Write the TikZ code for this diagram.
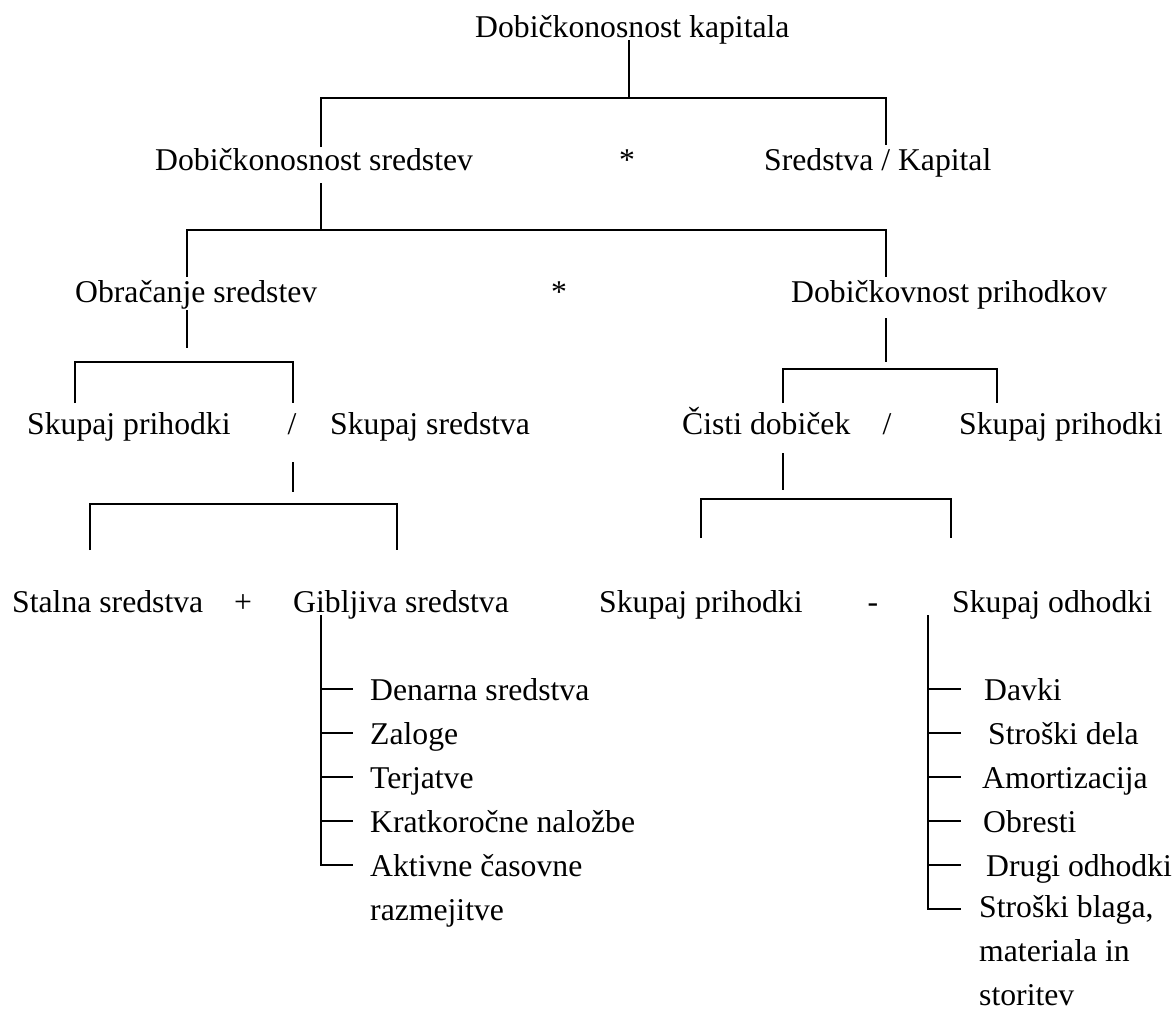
\documentclass[tikz,border=0pt]{standalone}
\usepackage{fontspec}
\setmainfont{Liberation Serif}
\begin{document}
\begin{tikzpicture}[x=1pt,y=-1pt,
  lbl/.style={anchor=base west, inner sep=0pt, align=left,
              font=\fontsize{31.7}{44}\selectfont},
  op/.style={anchor=base, inner sep=0pt, font=\fontsize{31.7}{44}\selectfont},
  ln/.style={line width=1.7pt, line cap=butt}]
\useasboundingbox (0,0) rectangle (1176,1009);

% ---- text of the tree ----
\node[lbl] (dk)   at (475,37)  {Dobičkonosnost kapitala};
\node[lbl] (ds)   at (155,170) {Dobičkonosnost sredstev};
\node[op]  (m1)   at (627,170) {*};
\node[lbl] (sk)   at (764,170) {Sredstva / Kapital};
\node[lbl] (os)   at (75,302)  {Obračanje sredstev};
\node[op]  (m2)   at (559,302) {*};
\node[lbl] (dp)   at (791,302) {Dobičkovnost prihodkov};
\node[lbl] (sp1)  at (27,434)  {Skupaj prihodki};
\node[op]  (d1)   at (292,434) {/};
\node[lbl] (ss)   at (330,434) {Skupaj sredstva};
\node[lbl] (cd)   at (682,434) {Čisti dobiček};
\node[op]  (d2)   at (887,434) {/};
\node[lbl] (sp2)  at (959,434) {Skupaj prihodki};
\node[lbl] (stal) at (12,612)  {Stalna sredstva};
\node[op]  (plus) at (243,612) {+};
\node[lbl] (gib)  at (293,612) {Gibljiva sredstva};
\node[lbl] (sp3)  at (599,612) {Skupaj prihodki};
\node[op]  (mns)  at (873,612) {-};
\node[lbl] (so)   at (952,612) {Skupaj odhodki};

% ---- current assets (a multi-line node sits on its last baseline) ----
\node[lbl] (g1) at (370,700) {Denarna sredstva};
\node[lbl] (g2) at (370,744) {Zaloge};
\node[lbl] (g3) at (370,788) {Terjatve};
\node[lbl] (g4) at (370,832) {Kratkoročne naložbe};
\node[lbl] (g5) at (370,920) {Aktivne časovne\\razmejitve};

% ---- expenses ----
\node[lbl] (o1) at (984,700) {Davki};
\node[lbl] (o2) at (988,744) {Stroški dela};
\node[lbl] (o3) at (982,788) {Amortizacija};
\node[lbl] (o4) at (983,832) {Obresti};
\node[lbl] (o5) at (986,876) {Drugi odhodki};
\node[lbl] (o6) at (979,1005) {Stroški blaga,\\materiala in\\storitev};

% ---- bracket joints ----
\coordinate (a0) at (629,40);   \coordinate (a1) at (629,98);
\coordinate (aL) at (321,98);   \coordinate (aR) at (886,98);
\coordinate (aLe) at (321,147); \coordinate (aRe) at (886,145);

\coordinate (b0) at (321,183);  \coordinate (b1) at (321,230);
\coordinate (bL) at (187,230);  \coordinate (bR) at (886,230);
\coordinate (bLe) at (187,277); \coordinate (bRe) at (886,277);

\coordinate (c0) at (187,310);  \coordinate (c1) at (187,348);
\coordinate (cL) at (75,362);   \coordinate (cR) at (293,362);
\coordinate (cLe) at (75,403);  \coordinate (cRe) at (293,403);

\coordinate (d0) at (886,318);  \coordinate (dd1) at (886,362);
\coordinate (dL) at (783,369);  \coordinate (dR) at (997,369);
\coordinate (dLe) at (783,403); \coordinate (dRe) at (997,403);

\coordinate (e0) at (293,462);  \coordinate (e1) at (293,492);
\coordinate (eL) at (90,504);   \coordinate (eR) at (397,504);
\coordinate (eLe) at (90,550);  \coordinate (eRe) at (397,550);

\coordinate (f0) at (783,453);  \coordinate (f1) at (783,490);
\coordinate (fL) at (701,499);  \coordinate (fR) at (951,499);
\coordinate (fLe) at (701,538); \coordinate (fRe) at (951,538);

% ---- tree connectors ----
\draw[ln] (a0) -- (a1);
\draw[ln] (aLe) -- (aL) -- (aR) -- (aRe);
\draw[ln] (b0) -- (b1);
\draw[ln] (bLe) -- (bL) -- (bR) -- (bRe);
\draw[ln] (c0) -- (c1);
\draw[ln] (cLe) -- (cL) -- (cR) -- (cRe);
\draw[ln] (d0) -- (dd1);
\draw[ln] (dLe) -- (dL) -- (dR) -- (dRe);
\draw[ln] (e0) -- (e1);
\draw[ln] (eLe) -- (eL) -- (eR) -- (eRe);
\draw[ln] (f0) -- (f1);
\draw[ln] (fLe) -- (fL) -- (fR) -- (fRe);

% ---- list rails ----
\coordinate (gv) at (321,615);  \coordinate (gt) at (353,615);
\coordinate (ov) at (928,615);  \coordinate (ot) at (961,615);

\foreach \i in {1,...,4}
  \coordinate (gy\i) at ([yshift=11pt]g\i.base west);
\coordinate (gy5) at ([yshift=55pt]g5.base west);
\foreach \i in {1,...,5}
  \coordinate (oy\i) at ([yshift=11pt]o\i.base west);
\coordinate (oy6) at ([yshift=96pt]o6.base west);

\draw[ln] (gv) -- (gv |- gy5) -- (gt |- gy5);
\foreach \i in {1,...,4}
  \draw[ln] (gv |- gy\i) -- (gt |- gy\i);

\draw[ln] (ov) -- (ov |- oy6) -- (ot |- oy6);
\foreach \i in {1,...,5}
  \draw[ln] (ov |- oy\i) -- (ot |- oy\i);
\end{tikzpicture}
\end{document}
